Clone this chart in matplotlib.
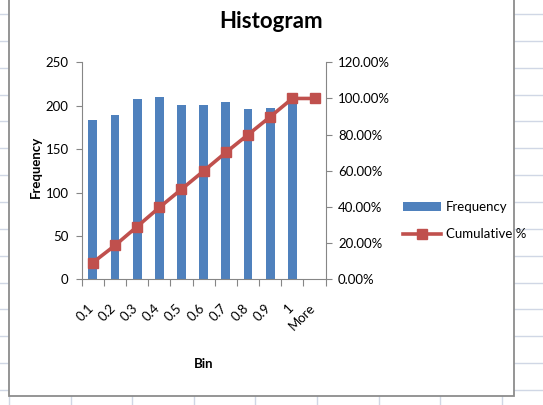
import matplotlib
matplotlib.use("Agg")
import matplotlib.pyplot as plt
import numpy as np
from matplotlib.lines import Line2D
from matplotlib.patches import Rectangle, Patch
from matplotlib.ticker import PercentFormatter
from matplotlib.transforms import ScaledTranslation

# histogram table
bins = ["0.1", "0.2", "0.3", "0.4", "0.5", "0.6", "0.7", "0.8", "0.9", "1", "More"]
frequency = [184, 189, 208, 210, 201, 201, 204, 196, 197, 202, 0]

cumulative = np.cumsum(frequency) / np.sum(frequency)

plt.rcParams['font.family'] = ['Lato', 'DejaVu Sans']

W, H = 543, 405
def fx(px):
    return px / W
def fy(py):
    return 1 - py / H

blue = '#4F81BD'
red = '#C0504D'
axis_grey = '#868686'
cell_grey = '#D0D7E5'
fs = 9.5

fig = plt.figure(figsize=(W / 100, H / 100), dpi=100)

# worksheet cells behind the chart
for yy in np.arange(14, H, 26.85):
    fig.add_artist(Line2D([0, 1], [fy(yy), fy(yy)], transform=fig.transFigure,
                          color=cell_grey, lw=1, zorder=-5))
for xx in np.arange(9, W, 61.6):
    fig.add_artist(Line2D([fx(xx), fx(xx)], [0, 1], transform=fig.transFigure,
                          color=cell_grey, lw=1, zorder=-5))

# chart area
fig.add_artist(Rectangle((fx(9), fy(396)), fx(514) - fx(9), 1.2, transform=fig.transFigure,
                         facecolor='white', edgecolor='#8C8C8C', lw=1.3, zorder=-4))

ax = fig.add_axes([fx(81.7), fy(279.3), (325.6 - 81.7) / W, (279.3 - 62.3) / H])
ax.patch.set_visible(False)
x = np.arange(len(bins))
ax.bar(x, frequency, width=0.4, color=blue, zorder=2)
ax.set_xlim(-0.5, len(bins) - 0.5)
ax.set_ylim(0, 250)
ax.set_yticks(np.arange(0, 251, 50))

ax.set_xticks(np.arange(len(bins) + 1) - 0.5)
ax.set_xticklabels([])
ax.set_xticks(x, minor=True)
ax.set_xticklabels(bins, minor=True, rotation=45, ha='right', va='top', fontsize=fs)
ax.tick_params(axis='x', which='major', length=5, color=axis_grey, direction='out')
ax.tick_params(axis='x', which='minor', length=0, pad=16)
ax.tick_params(axis='y', length=4, color=axis_grey, pad=5.5, labelsize=fs)
for lbl in ax.get_xticklabels(minor=True):
    lbl.set_transform(lbl.get_transform() + ScaledTranslation(0.03, 0, fig.dpi_scale_trans))

for s in ['top', 'right']:
    ax.spines[s].set_visible(False)
for s in ['left', 'bottom']:
    ax.spines[s].set_color(axis_grey)

ax2 = ax.twinx()
ax2.plot(x, cumulative, color=red, lw=2.6, marker='s', ms=7.5, zorder=3)
ax2.set_ylim(0, 1.2)
ax2.set_yticks(np.arange(0, 1.21, 0.2))
ax2.yaxis.set_major_formatter(PercentFormatter(xmax=1, decimals=2))
ax2.tick_params(axis='y', length=4, color=axis_grey, pad=5, labelsize=fs)
for s in ['top', 'left', 'bottom']:
    ax2.spines[s].set_visible(False)
ax2.spines['right'].set_color(axis_grey)

fig.text(fx(271.5), fy(22), "Histogram", ha='center', va='center',
         fontsize=16, fontweight='bold')
fig.text(fx(36), fy(167), "Frequency", ha='center', va='center', rotation=90,
         fontsize=fs, fontweight='bold')
fig.text(fx(203.6), fy(364), "Bin", ha='center', va='center',
         fontsize=fs, fontweight='bold')

handles = [Patch(facecolor=blue, edgecolor='none'),
           Line2D([], [], color=red, lw=2.6, marker='s', ms=7.5)]
fig.legend(handles, ["Frequency", "Cumulative %"], loc='center left',
           bbox_to_anchor=(fx(403), fy(220.5)), frameon=False, borderpad=0,
           borderaxespad=0, handlelength=2.9, handleheight=0.62, handletextpad=0.35,
           labelspacing=1.15, fontsize=fs)

fig.savefig("out.png", dpi=100)
